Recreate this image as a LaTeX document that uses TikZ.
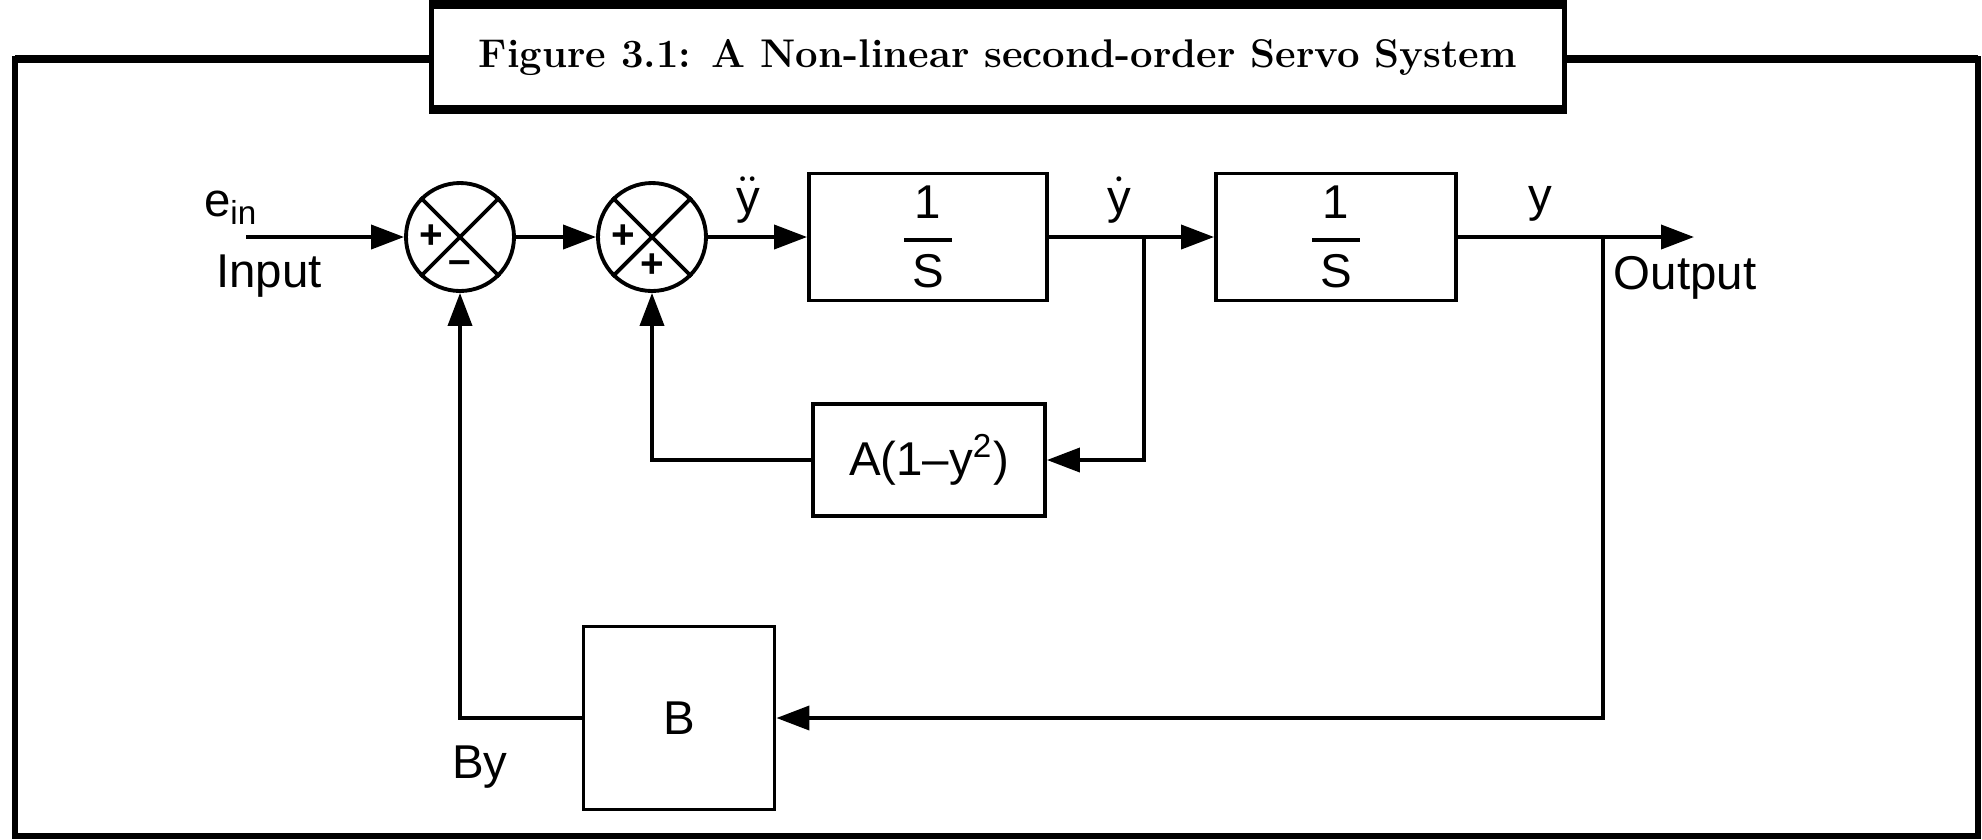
\documentclass[tikz,border=0pt]{standalone}
\usepackage{fontspec}
\setsansfont{Liberation Sans}
\usetikzlibrary{arrows.meta}

\newcommand{\integ}{$\displaystyle{\mbox{1} \above 1pt \mbox{\,S\,}}$}

\begin{document}
\begin{tikzpicture}[
    line width=1.1pt,
    sig/.style={-{Triangle[length=3.3mm,width=2.4mm]}},
    block/.style={draw, inner sep=0pt, font=\sffamily\fontsize{13.5}{16}\selectfont},
    sumjn/.style={draw, circle, minimum size=1.08cm, inner sep=0pt},
    lbl/.style={font=\sffamily\fontsize{13.5}{16}\selectfont},
    sgn/.style={font=\sffamily\bfseries\fontsize{11.5}{12}\selectfont, inner sep=0pt}
  ]
    \useasboundingbox (0,0) rectangle (19.82,-8.39);

    % Outer frame and caption
    \draw[line width=1.6pt] (0.15,-0.59) rectangle (19.78,-8.36);
    \draw[line width=2.4pt] (0.15,-0.59) -- (19.78,-0.59);
    \node[draw, fill=white, line width=1.4pt, minimum width=11.33cm, minimum height=1.01cm,
          font=\bfseries\fontsize{11.4}{13}\selectfont] (title) at (9.98,-0.57)
          {Figure 3.1: A Non-linear second-order Servo System};
    \draw[line width=2.4pt] (title.north west) -- (title.north east);
    \draw[line width=2.4pt] (title.south west) -- (title.south east);

    % Summing junctions
    \node[sumjn] (sum1) at (4.60,-2.37) {};
    \node[sumjn] (sum2) at (6.52,-2.37) {};
    \foreach \s in {sum1,sum2} {
            \draw (\s.45) -- (\s.225);
            \draw (\s.135) -- (\s.315);
        }
    \node[sgn] (p1) at ([xshift=-0.29cm]sum1.center) {+};
    \node[sgn] (m1) at ([yshift=-0.30cm]sum1.center) {--};
    \node[sgn] (p2) at ([xshift=-0.29cm]sum2.center) {+};
    \node[sgn] (p3) at ([yshift=-0.29cm]sum2.center) {+};

    % Blocks
    \node[block, minimum width=2.38cm, minimum height=1.27cm] (int1) at (9.28,-2.37) {\integ};
    \node[block, minimum width=2.40cm, minimum height=1.27cm] (int2) at (13.36,-2.37) {\integ};
    \node[block, minimum width=2.32cm, minimum height=1.12cm] (gainA) at (9.29,-4.60) {A(1--y\textsuperscript{2})};
    \node[block, minimum width=1.91cm, minimum height=1.83cm] (gainB) at (6.79,-7.18) {B};

    % Signal labels
    \node[lbl] (ein) at (2.31,-2.08) {e\textsubscript{in}};
    \node[lbl] (inlbl) at (2.69,-2.76) {Input};
    \node[lbl] (yddot) at (7.48,-2.00) {$\ddot{\mbox{y}}$};
    \node[lbl] (ydot) at (11.19,-2.00) {$\dot{\mbox{y}}$};
    \node[lbl] (ylbl) at (15.40,-2.04) {y};
    \node[lbl] (outlbl) at (16.85,-2.78) {Output};
    \node[lbl] (bylbl) at (4.80,-7.67) {By};

    % Forward path
    \coordinate (in) at (2.46,-2.37);
    \coordinate (dy) at (11.44,-2.37);
    \coordinate (yb) at (16.03,-2.37);
    \coordinate (out) at (16.94,-2.37);
    \draw[sig] (in) -- (sum1);
    \draw[sig] (sum1) -- (sum2);
    \draw[sig] (sum2) -- (int1);
    \draw[sig] (int1) -- (int2);
    \draw[sig] (int2) -- (out);

    % Feedback loops
    \draw[sig] (dy) |- (gainA);
    \draw[sig] (gainA) -| (sum2);
    \draw[sig] (yb) |- (gainB);
    \draw[sig] (gainB) -| (sum1);
\end{tikzpicture}
\end{document}
